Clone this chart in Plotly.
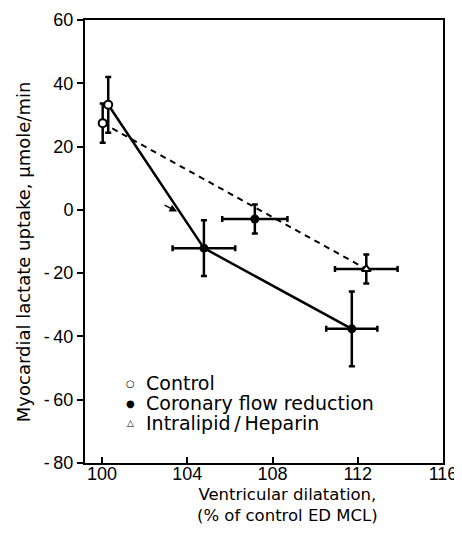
import plotly.graph_objects as go

# Data
control_x = [100.03, 100.29]
control_y = [27.4, 33.2]
control_yerr = [6.2, 8.8]

coronary_x = [104.78, 107.17, 111.72]
coronary_y = [-12.1, -2.9, -37.6]
coronary_xerr = [1.47, 1.53, 1.2]
coronary_yerr = [8.8, 4.6, 11.8]

intralipid_x = [112.4]
intralipid_y = [-18.7]
intralipid_xerr = [1.47]
intralipid_yerr = [4.6]

solid_x = [100.29, 104.78, 111.72]
solid_y = [33.2, -12.1, -37.6]
dashed_x = [100.03, 112.4]
dashed_y = [27.4, -18.7]

x_ticks = [100, 104, 108, 112, 116]
y_ticks = [-80, -60, -40, -20, 0, 20, 40, 60]
y_ticktext = [("-\u2009" + str(-v)) if v < 0 else str(v) for v in y_ticks]

legend_labels = ["Control", "Coronary flow reduction", "Intralipid\u2009/\u2009Heparin"]
legend_symbols = ["\u25cb", "\u25cf", "\u25b3"]

FONT = "Liberation Sans, Arial, Helvetica, sans-serif"
WIDE = "DejaVu Sans, Liberation Sans, Arial, sans-serif"

fig = go.Figure()

fig.add_trace(go.Scatter(x=solid_x, y=solid_y, mode="lines",
                         line=dict(color="black", width=2.5), showlegend=False,
                         hoverinfo="skip"))
fig.add_trace(go.Scatter(x=dashed_x, y=dashed_y, mode="lines",
                         line=dict(color="black", width=2, dash="6px,5px"), showlegend=False,
                         hoverinfo="skip"))

err_style = dict(color="black", thickness=2.5, width=3)

fig.add_trace(go.Scatter(
    x=control_x, y=control_y, mode="markers", name=legend_labels[0],
    marker=dict(symbol="circle", size=8, color="white", line=dict(color="black", width=2)),
    error_y=dict(type="data", array=control_yerr, **err_style),
))
fig.add_trace(go.Scatter(
    x=coronary_x, y=coronary_y, mode="markers", name=legend_labels[1],
    marker=dict(symbol="circle", size=9, color="black"),
    error_y=dict(type="data", array=coronary_yerr, **err_style),
    error_x=dict(type="data", array=coronary_xerr, **err_style),
))
fig.add_trace(go.Scatter(
    x=intralipid_x, y=intralipid_y, mode="markers", name=legend_labels[2],
    marker=dict(symbol="triangle-up", size=8, color="white", line=dict(color="black", width=2)),
    error_y=dict(type="data", array=intralipid_yerr, **err_style),
    error_x=dict(type="data", array=intralipid_xerr, **err_style),
))

annotations = [
    dict(text="Myocardial lactate uptake, \u00b5mole/min", xref="paper", yref="paper",
         x=-0.173, y=0.476, xanchor="center", yanchor="middle", textangle=-90,
         showarrow=False, font=dict(size=18, family=WIDE)),
    dict(text="Ventricular dilatation,<br>(% of control ED MCL)", xref="paper", yref="paper",
         x=0.565, y=(463 - 505) / 443, xanchor="center", yanchor="middle",
         showarrow=False, font=dict(size=16.5, family=WIDE)),
    dict(x=103.52, y=-0.5, ax=-14, ay=-7, showarrow=True, arrowhead=2,
         arrowsize=1, arrowwidth=1.5, arrowcolor="black", text=""),
]
row_y = [383, 403, 423]
sym_sizes = [10, 10, 9]
for lab, sym, ry, ss in zip(legend_labels, legend_symbols, row_y, sym_sizes):
    yp = (463 - ry) / 443
    annotations.append(dict(text=sym, xref="paper", yref="paper", x=(130 - 85) / 358, y=yp,
                            xanchor="center", yanchor="middle", showarrow=False,
                            font=dict(size=ss, family="DejaVu Sans")))
    annotations.append(dict(text=lab, xref="paper", yref="paper", x=(144 - 85) / 358, y=yp,
                            xanchor="left", yanchor="middle", showarrow=False,
                            font=dict(size=19, family=WIDE)))

fig.update_layout(
    width=454, height=531,
    margin=dict(l=77, r=19, t=12, b=76, autoexpand=False),
    paper_bgcolor="white", plot_bgcolor="white",
    font=dict(family=FONT, color="black", size=18),
    showlegend=False,
    xaxis=dict(range=[99.2, 116], tickvals=x_ticks, ticks="inside", ticklen=6,
               tickwidth=2, tickcolor="black", showline=True, linecolor="black",
               linewidth=2, mirror=True, showgrid=False, zeroline=False,
               tickfont=dict(size=18), automargin=False, ticklabelstandoff=-7),
    yaxis=dict(range=[-80, 60], tickvals=y_ticks, ticktext=y_ticktext,
               ticks="outside", ticklen=6, tickwidth=2, tickcolor="black",
               showline=True, linecolor="black", linewidth=2, mirror=True,
               showgrid=False, zeroline=False, tickfont=dict(size=18), automargin=False),
    annotations=annotations,
)

fig.write_html("out.html")
